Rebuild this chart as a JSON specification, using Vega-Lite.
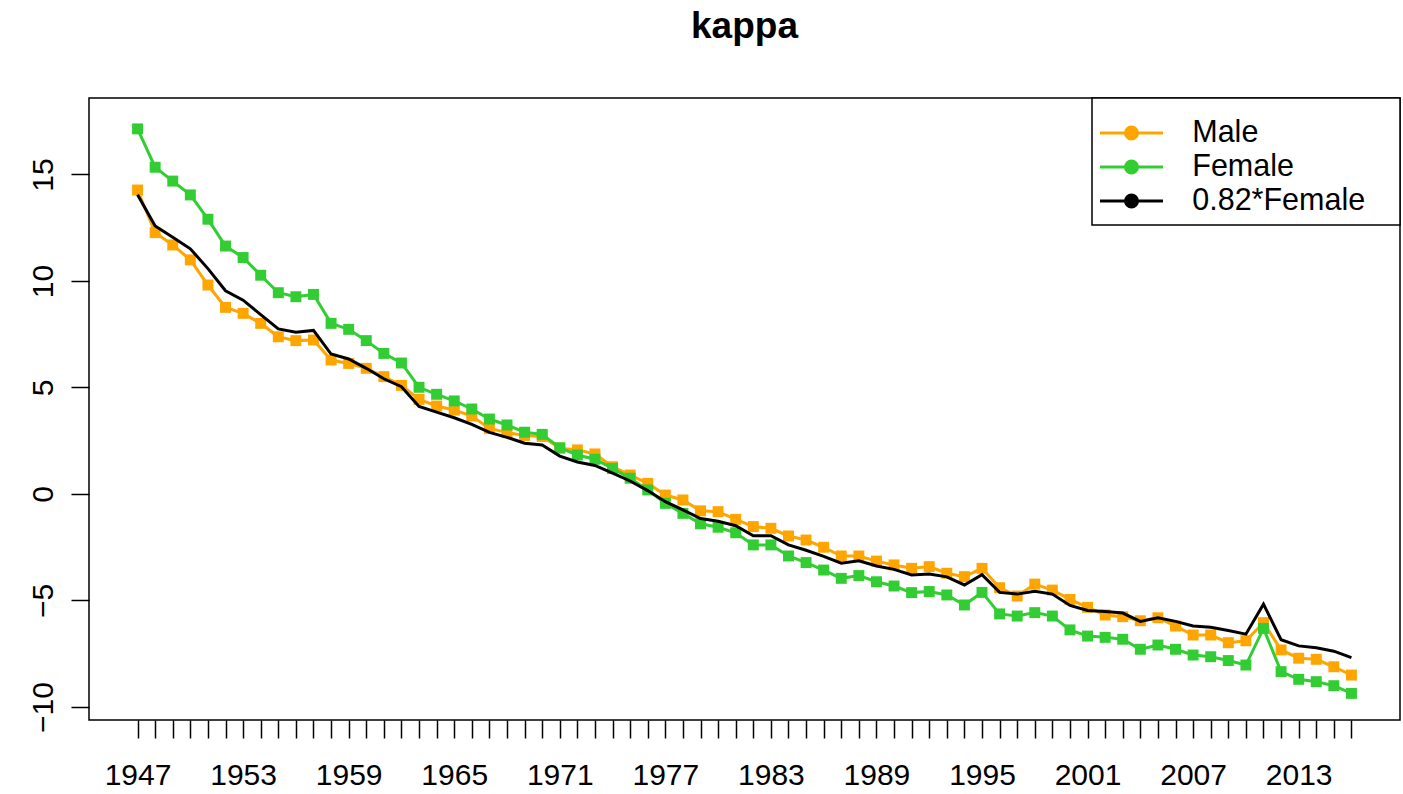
{
  "$schema": "https://vega.github.io/schema/vega-lite/v6.json",
  "width": 1311,
  "height": 622,
  "autosize": {"type": "none"},
  "padding": {"left": 89, "top": 98, "right": 3, "bottom": 74},
  "background": "white",
  "title": {"text": "kappa", "fontSize": 37, "fontWeight": "bold", "font": "Liberation Sans", "color": "black", "anchor": "middle", "baseline": "alphabetic", "offset": 22},
  "config": {
    "view": {"stroke": "black", "strokeWidth": 1.5},
    "axis": {"labelFont": "Liberation Sans", "labelFontSize": 30, "labelColor": "black", "tickColor": "black", "tickWidth": 1.5, "tickSize": 18, "domain": false, "grid": false, "title": null}
  },
  "data": {"values": [
    {"year":1947,"series":"Male","value":14.27},{"year":1948,"series":"Male","value":12.27},{"year":1949,"series":"Male","value":11.69},{"year":1950,"series":"Male","value":10.99},{"year":1951,"series":"Male","value":9.81},{"year":1952,"series":"Male","value":8.76},{"year":1953,"series":"Male","value":8.48},{"year":1954,"series":"Male","value":8.01},{"year":1955,"series":"Male","value":7.38},{"year":1956,"series":"Male","value":7.2},
    {"year":1957,"series":"Male","value":7.23},{"year":1958,"series":"Male","value":6.29},{"year":1959,"series":"Male","value":6.13},{"year":1960,"series":"Male","value":5.9},{"year":1961,"series":"Male","value":5.51},{"year":1962,"series":"Male","value":5.1},{"year":1963,"series":"Male","value":4.44},{"year":1964,"series":"Male","value":4.13},{"year":1965,"series":"Male","value":3.94},{"year":1966,"series":"Male","value":3.66},
    {"year":1967,"series":"Male","value":3.08},{"year":1968,"series":"Male","value":2.88},{"year":1969,"series":"Male","value":2.75},{"year":1970,"series":"Male","value":2.7},{"year":1971,"series":"Male","value":2.15},{"year":1972,"series":"Male","value":2.07},{"year":1973,"series":"Male","value":1.88},{"year":1974,"series":"Male","value":1.28},{"year":1975,"series":"Male","value":0.89},{"year":1976,"series":"Male","value":0.5},
    {"year":1977,"series":"Male","value":-0.05},{"year":1978,"series":"Male","value":-0.28},{"year":1979,"series":"Male","value":-0.79},{"year":1980,"series":"Male","value":-0.83},{"year":1981,"series":"Male","value":-1.19},{"year":1982,"series":"Male","value":-1.53},{"year":1983,"series":"Male","value":-1.61},{"year":1984,"series":"Male","value":-1.97},{"year":1985,"series":"Male","value":-2.16},{"year":1986,"series":"Male","value":-2.5},
    {"year":1987,"series":"Male","value":-2.91},{"year":1988,"series":"Male","value":-2.91},{"year":1989,"series":"Male","value":-3.15},{"year":1990,"series":"Male","value":-3.33},{"year":1991,"series":"Male","value":-3.49},{"year":1992,"series":"Male","value":-3.41},{"year":1993,"series":"Male","value":-3.72},{"year":1994,"series":"Male","value":-3.88},{"year":1995,"series":"Male","value":-3.49},{"year":1996,"series":"Male","value":-4.4},
    {"year":1997,"series":"Male","value":-4.79},{"year":1998,"series":"Male","value":-4.23},{"year":1999,"series":"Male","value":-4.51},{"year":2000,"series":"Male","value":-4.95},{"year":2001,"series":"Male","value":-5.32},{"year":2002,"series":"Male","value":-5.68},{"year":2003,"series":"Male","value":-5.76},{"year":2004,"series":"Male","value":-5.95},{"year":2005,"series":"Male","value":-5.81},{"year":2006,"series":"Male","value":-6.2},
    {"year":2007,"series":"Male","value":-6.62},{"year":2008,"series":"Male","value":-6.62},{"year":2009,"series":"Male","value":-6.98},{"year":2010,"series":"Male","value":-6.89},{"year":2011,"series":"Male","value":-6.04},{"year":2012,"series":"Male","value":-7.32},{"year":2013,"series":"Male","value":-7.71},{"year":2014,"series":"Male","value":-7.76},{"year":2015,"series":"Male","value":-8.11},{"year":2016,"series":"Male","value":-8.5},
    {"year":1947,"series":"Female","value":17.14},{"year":1948,"series":"Female","value":15.34},{"year":1949,"series":"Female","value":14.69},{"year":1950,"series":"Female","value":14.04},{"year":1951,"series":"Female","value":12.9},{"year":1952,"series":"Female","value":11.64},{"year":1953,"series":"Female","value":11.1},{"year":1954,"series":"Female","value":10.27},{"year":1955,"series":"Female","value":9.45},{"year":1956,"series":"Female","value":9.26},
    {"year":1957,"series":"Female","value":9.37},{"year":1958,"series":"Female","value":8.01},{"year":1959,"series":"Female","value":7.73},{"year":1960,"series":"Female","value":7.2},{"year":1961,"series":"Female","value":6.6},{"year":1962,"series":"Female","value":6.15},{"year":1963,"series":"Female","value":5.01},{"year":1964,"series":"Female","value":4.68},{"year":1965,"series":"Female","value":4.37},{"year":1966,"series":"Female","value":3.99},
    {"year":1967,"series":"Female","value":3.52},{"year":1968,"series":"Female","value":3.24},{"year":1969,"series":"Female","value":2.9},{"year":1970,"series":"Female","value":2.8},{"year":1971,"series":"Female","value":2.17},{"year":1972,"series":"Female","value":1.83},{"year":1973,"series":"Female","value":1.63},{"year":1974,"series":"Female","value":1.2},{"year":1975,"series":"Female","value":0.74},{"year":1976,"series":"Female","value":0.19},
    {"year":1977,"series":"Female","value":-0.44},{"year":1978,"series":"Female","value":-0.91},{"year":1979,"series":"Female","value":-1.4},{"year":1980,"series":"Female","value":-1.56},{"year":1981,"series":"Female","value":-1.82},{"year":1982,"series":"Female","value":-2.39},{"year":1983,"series":"Female","value":-2.39},{"year":1984,"series":"Female","value":-2.91},{"year":1985,"series":"Female","value":-3.22},{"year":1986,"series":"Female","value":-3.57},
    {"year":1987,"series":"Female","value":-3.96},{"year":1988,"series":"Female","value":-3.83},{"year":1989,"series":"Female","value":-4.12},{"year":1990,"series":"Female","value":-4.32},{"year":1991,"series":"Female","value":-4.63},{"year":1992,"series":"Female","value":-4.58},{"year":1993,"series":"Female","value":-4.74},{"year":1994,"series":"Female","value":-5.21},{"year":1995,"series":"Female","value":-4.62},{"year":1996,"series":"Female","value":-5.63},
    {"year":1997,"series":"Female","value":-5.73},{"year":1998,"series":"Female","value":-5.57},{"year":1999,"series":"Female","value":-5.73},{"year":2000,"series":"Female","value":-6.38},{"year":2001,"series":"Female","value":-6.67},{"year":2002,"series":"Female","value":-6.73},{"year":2003,"series":"Female","value":-6.82},{"year":2004,"series":"Female","value":-7.29},{"year":2005,"series":"Female","value":-7.09},{"year":2006,"series":"Female","value":-7.29},
    {"year":2007,"series":"Female","value":-7.56},{"year":2008,"series":"Female","value":-7.64},{"year":2009,"series":"Female","value":-7.82},{"year":2010,"series":"Female","value":-8.03},{"year":2011,"series":"Female","value":-6.31},{"year":2012,"series":"Female","value":-8.34},{"year":2013,"series":"Female","value":-8.7},{"year":2014,"series":"Female","value":-8.81},{"year":2015,"series":"Female","value":-9.0},{"year":2016,"series":"Female","value":-9.36},
    {"year":1947,"series":"0.82*Female","value":14.05},{"year":1948,"series":"0.82*Female","value":12.58},{"year":1949,"series":"0.82*Female","value":12.05},{"year":1950,"series":"0.82*Female","value":11.51},{"year":1951,"series":"0.82*Female","value":10.58},{"year":1952,"series":"0.82*Female","value":9.54},{"year":1953,"series":"0.82*Female","value":9.1},{"year":1954,"series":"0.82*Female","value":8.42},{"year":1955,"series":"0.82*Female","value":7.75},{"year":1956,"series":"0.82*Female","value":7.59},
    {"year":1957,"series":"0.82*Female","value":7.68},{"year":1958,"series":"0.82*Female","value":6.57},{"year":1959,"series":"0.82*Female","value":6.34},{"year":1960,"series":"0.82*Female","value":5.9},{"year":1961,"series":"0.82*Female","value":5.41},{"year":1962,"series":"0.82*Female","value":5.04},{"year":1963,"series":"0.82*Female","value":4.11},{"year":1964,"series":"0.82*Female","value":3.84},{"year":1965,"series":"0.82*Female","value":3.58},{"year":1966,"series":"0.82*Female","value":3.27},
    {"year":1967,"series":"0.82*Female","value":2.89},{"year":1968,"series":"0.82*Female","value":2.66},{"year":1969,"series":"0.82*Female","value":2.38},{"year":1970,"series":"0.82*Female","value":2.3},{"year":1971,"series":"0.82*Female","value":1.78},{"year":1972,"series":"0.82*Female","value":1.5},{"year":1973,"series":"0.82*Female","value":1.34},{"year":1974,"series":"0.82*Female","value":0.98},{"year":1975,"series":"0.82*Female","value":0.61},{"year":1976,"series":"0.82*Female","value":0.16},
    {"year":1977,"series":"0.82*Female","value":-0.36},{"year":1978,"series":"0.82*Female","value":-0.75},{"year":1979,"series":"0.82*Female","value":-1.15},{"year":1980,"series":"0.82*Female","value":-1.28},{"year":1981,"series":"0.82*Female","value":-1.49},{"year":1982,"series":"0.82*Female","value":-1.96},{"year":1983,"series":"0.82*Female","value":-1.96},{"year":1984,"series":"0.82*Female","value":-2.39},{"year":1985,"series":"0.82*Female","value":-2.64},{"year":1986,"series":"0.82*Female","value":-2.93},
    {"year":1987,"series":"0.82*Female","value":-3.25},{"year":1988,"series":"0.82*Female","value":-3.14},{"year":1989,"series":"0.82*Female","value":-3.38},{"year":1990,"series":"0.82*Female","value":-3.54},{"year":1991,"series":"0.82*Female","value":-3.8},{"year":1992,"series":"0.82*Female","value":-3.76},{"year":1993,"series":"0.82*Female","value":-3.89},{"year":1994,"series":"0.82*Female","value":-4.27},{"year":1995,"series":"0.82*Female","value":-3.79},{"year":1996,"series":"0.82*Female","value":-4.62},
    {"year":1997,"series":"0.82*Female","value":-4.7},{"year":1998,"series":"0.82*Female","value":-4.57},{"year":1999,"series":"0.82*Female","value":-4.7},{"year":2000,"series":"0.82*Female","value":-5.23},{"year":2001,"series":"0.82*Female","value":-5.47},{"year":2002,"series":"0.82*Female","value":-5.52},{"year":2003,"series":"0.82*Female","value":-5.59},{"year":2004,"series":"0.82*Female","value":-5.98},{"year":2005,"series":"0.82*Female","value":-5.81},{"year":2006,"series":"0.82*Female","value":-5.98},
    {"year":2007,"series":"0.82*Female","value":-6.2},{"year":2008,"series":"0.82*Female","value":-6.26},{"year":2009,"series":"0.82*Female","value":-6.41},{"year":2010,"series":"0.82*Female","value":-6.58},{"year":2011,"series":"0.82*Female","value":-5.17},{"year":2012,"series":"0.82*Female","value":-6.84},{"year":2013,"series":"0.82*Female","value":-7.13},{"year":2014,"series":"0.82*Female","value":-7.22},{"year":2015,"series":"0.82*Female","value":-7.38},{"year":2016,"series":"0.82*Female","value":-7.68}
  ]},
  "encoding": {
    "x": {"field": "year", "type": "quantitative",
      "scale": {"domain": [1944.24, 2018.76], "nice": false, "zero": false},
      "axis": {"values": [1947,1948,1949,1950,1951,1952,1953,1954,1955,1956,1957,1958,1959,1960,1961,1962,1963,1964,1965,1966,1967,1968,1969,1970,1971,1972,1973,1974,1975,1976,1977,1978,1979,1980,1981,1982,1983,1984,1985,1986,1987,1988,1989,1990,1991,1992,1993,1994,1995,1996,1997,1998,1999,2000,2001,2002,2003,2004,2005,2006,2007,2008,2009,2010,2011,2012,2013,2014,2015,2016],
        "format": "d", "labelExpr": "(datum.value - 1947) % 6 == 0 ? datum.label : ''", "labelOverlap": false, "labelFlush": false, "labelBound": false, "labelPadding": 22}},
    "y": {"field": "value", "type": "quantitative",
      "scale": {"domain": [-10.61, 18.59], "nice": false, "zero": false},
      "axis": {"values": [-10,-5,0,5,10,15], "labelAngle": 270, "labelAlign": "center", "labelBaseline": "alphabetic", "labelPadding": 19, "labelOverlap": false, "labelFlush": false}},
    "color": {"field": "series", "type": "nominal",
      "scale": {"domain": ["Male", "Female", "0.82*Female"], "range": ["#FFA500", "#32CD32", "#000000"]},
      "legend": {"title": "\u00a0", "titleOrient": "top", "titleFontSize": 1, "titleColor": "white", "titlePadding": 10.75,
        "orient": "top-right", "offset": 0, "padding": 8, "strokeColor": "black", "fillColor": "white",
        "symbolType": "M-3.15,0H3.15M-0.6,0A0.6,0.6,0,1,0,0.6,0A0.6,0.6,0,1,0,-0.6,0ZM25.4,0",
        "symbolSize": 400, "symbolStrokeWidth": 3, "symbolOffset": 16.25,
        "labelFont": "Liberation Sans", "labelFontSize": 30.5, "labelColor": "black", "labelOffset": 45.5, "labelLimit": 400,
        "rowPadding": 3,
        "encode": {"symbols": {"update": {
            "fill": {"scale": "color", "field": "value"}, "stroke": {"scale": "color", "field": "value"}, "strokeWidth": {"value": 3}, "opacity": {"value": 1}}},
                   "legend": {"update": {"strokeWidth": {"value": 1.5}}}}}
    }
  },
  "layer": [
    {"transform": [{"filter": "datum.series === 'Male'"}], "mark": {"type": "line", "strokeWidth": 3}},
    {"transform": [{"filter": "datum.series === 'Male'"}], "mark": {"type": "point", "shape": "square", "filled": true, "size": 120, "opacity": 1}},
    {"transform": [{"filter": "datum.series === 'Female'"}], "mark": {"type": "line", "strokeWidth": 3}},
    {"transform": [{"filter": "datum.series === 'Female'"}], "mark": {"type": "point", "shape": "square", "filled": true, "size": 120, "opacity": 1}},
    {"transform": [{"filter": "datum.series === '0.82*Female'"}], "mark": {"type": "line", "strokeWidth": 3}}
  ]
}
